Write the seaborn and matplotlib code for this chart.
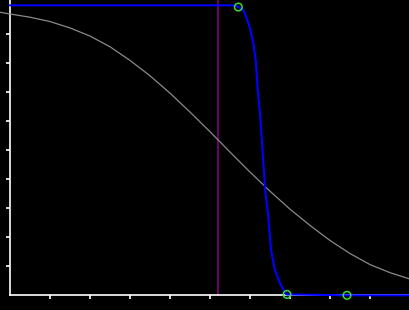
import matplotlib
matplotlib.use("Agg")
import matplotlib.pyplot as plt
import seaborn as sns
import pandas as pd

# Gray smooth decreasing curve
gray_x = [-0.25, 0.0, 0.5, 1.0, 1.5, 2.0, 2.5, 3.0, 3.5, 4.0, 4.5, 5.0, 5.5,
          6.0, 6.5, 7.0, 7.5, 8.0, 8.5, 9.0, 9.5, 10.0]
gray_y = [0.976, 0.970, 0.959, 0.944, 0.922, 0.894, 0.857, 0.810, 0.757, 0.697, 0.632,
          0.564, 0.494, 0.425, 0.359, 0.297, 0.241, 0.189, 0.144, 0.106, 0.078, 0.056]

# Blue steep curve
blue_x = [0.0, 5.58, 5.708, 5.833, 5.918, 6.0, 6.083, 6.143, 6.193, 6.25, 6.308, 6.375,
          6.458, 6.525, 6.625, 6.75, 6.9, 6.925, 8.425, 10.0]
blue_y = [1.0, 1.0, 0.994, 0.984, 0.955, 0.921, 0.869, 0.811, 0.708, 0.629, 0.512, 0.369,
          0.271, 0.156, 0.087, 0.041, 0.004, 0.003, 0.0, 0.0]

# Green hollow markers
mark_x = [5.708, 6.925, 8.425]
mark_y = [0.994, 0.003, 0.0]

# Purple vertical marker
vline_x = 5.21

x_ticks = [1, 2, 3, 4, 5, 6, 7, 8, 9]
y_ticks = [0.1, 0.2, 0.3, 0.4, 0.5, 0.6, 0.7, 0.8, 0.9]

sns.set_style("dark")
fig = plt.figure(figsize=(4.1, 3.1), dpi=100, facecolor="black")
ax = fig.add_axes([0, 0, 1, 1])
ax.set_facecolor("black")
ax.grid(False)

gray_df = pd.DataFrame({"x": gray_x, "y": gray_y})
blue_df = pd.DataFrame({"x": blue_x, "y": blue_y})
mark_df = pd.DataFrame({"x": mark_x, "y": mark_y})

ax.plot([vline_x, vline_x], [0, 1.1], color="#8b008b", lw=1.1, zorder=2)
sns.lineplot(data=gray_df, x="x", y="y", ax=ax, color="#8a8a8a", lw=0.9,
             estimator=None, sort=False, zorder=3)
sns.lineplot(data=blue_df, x="x", y="y", ax=ax, color="#0000ff", lw=1.5,
             estimator=None, sort=False, zorder=5)
sns.scatterplot(data=mark_df, x="x", y="y", ax=ax, s=30, facecolor="none",
                edgecolor="#33dd33", linewidth=1.1, zorder=6)

ax.set_xlim(-0.25, 10.0)
ax.set_ylim(-0.0507, 1.0183)

for s in ["top", "right"]:
    ax.spines[s].set_visible(False)
ax.spines["left"].set_position(("data", 0))
ax.spines["bottom"].set_position(("data", 0))
for s in ["left", "bottom"]:
    ax.spines[s].set_color("white")
    ax.spines[s].set_linewidth(1.2)
    ax.spines[s].set_visible(True)
ax.spines["left"].set_bounds(0, 1.0183)
ax.spines["bottom"].set_bounds(0, 10)

ax.set_xticks(x_ticks)
ax.set_yticks(y_ticks)
ax.set_xticklabels([])
ax.set_yticklabels([])
ax.tick_params(axis="both", direction="out", length=3, width=1.2, color="white",
               bottom=True, left=True)
ax.set_xlabel("")
ax.set_ylabel("")

fig.savefig("out.png", dpi=100, facecolor="black")
